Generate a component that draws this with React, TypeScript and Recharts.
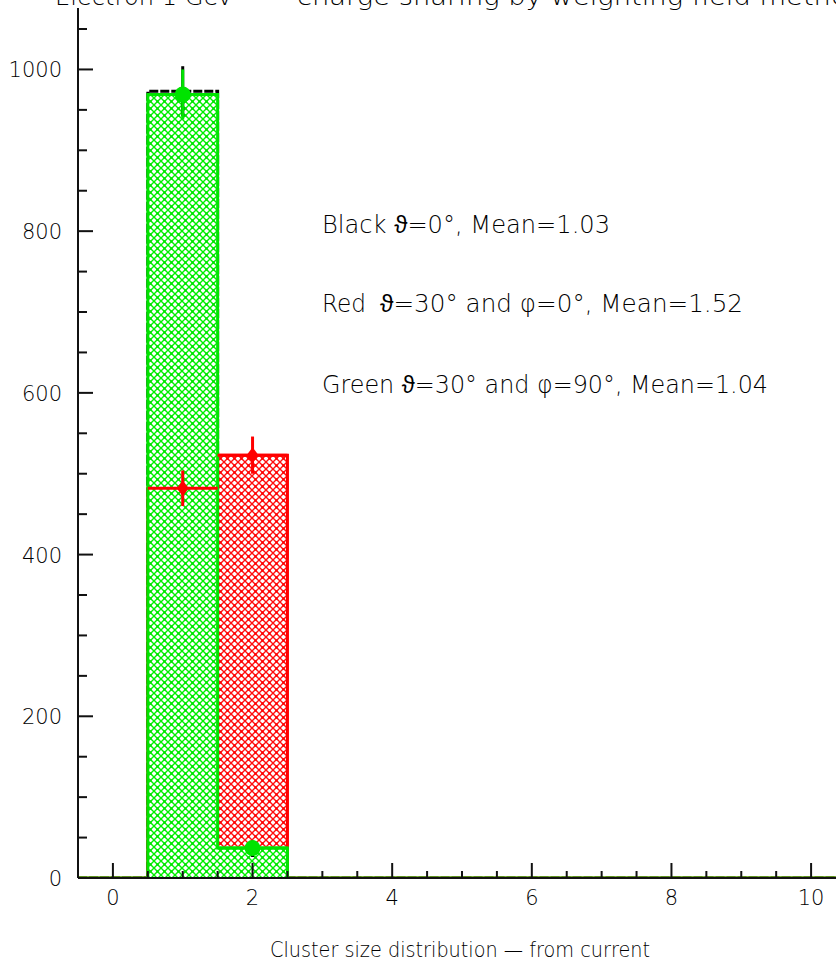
import { Area, ComposedChart, ErrorBar, Scatter, XAxis, YAxis } from "recharts"

// histogram bins (cluster size) and counts per incidence angle
const bins = [0, 1, 2, 3, 4, 5, 6, 7, 8, 9, 10]
const blackCounts = [0, 973, 32, 0, 0, 0, 0, 0, 0, 0, 0]
const redCounts = [0, 482, 523, 0, 0, 0, 0, 0, 0, 0, 0]
const greenCounts = [0, 969, 37, 0, 0, 0, 0, 0, 0, 0, 0]
const blackErrors = [0, 31, 6, 0, 0, 0, 0, 0, 0, 0, 0]
const redErrors = [0, 22, 23, 0, 0, 0, 0, 0, 0, 0, 0]
const greenErrors = [0, 31, 6, 0, 0, 0, 0, 0, 0, 0, 0]

const xTicks = [0, 0.5, 1, 1.5, 2, 2.5, 3, 3.5, 4, 4.5, 5, 5.5, 6, 6.5, 7, 7.5, 8, 8.5, 9, 9.5, 10, 10.5]
const yTicks = [0, 50, 100, 150, 200, 250, 300, 350, 400, 450, 500, 550, 600, 650, 700, 750, 800, 850, 900, 950, 1000, 1050]
const xLabels = [0, 2, 4, 6, 8, 10]
const yLabels = [0, 200, 400, 600, 800, 1000]

const GREEN = "#00e400"
const RED = "#ff0000"
const INK = "#111"
const FONT = "'DejaVu Sans', sans-serif"

const W = 860
const H = 961
const LEFT = 78
const TOP = 8
const BOTTOM = 878
const RIGHT = 846
const BIN_PX = (RIGHT - LEFT) / 11

const steps = (counts: number[]) => [
  ...bins.map((b, i) => ({ x: b - 0.5, v: counts[i] })),
  { x: bins[bins.length - 1] + 0.5, v: counts[counts.length - 1] },
]

const points = (counts: number[], errs: number[]) =>
  bins.map((b, i) => ({ x: b, v: counts[i], err: errs[i] })).filter((p) => p.v > 0)

const XTick = (p: any) => {
  const v = p.payload.value
  const major = xLabels.includes(v)
  return (
    <g>
      <line x1={p.x} x2={p.x} y1={p.y} y2={p.y - (major ? 15 : 7)} stroke={INK} strokeWidth={2} />
      {major && (
        <text x={p.x} y={p.y + 27} textAnchor="middle" fontSize={21} fontFamily={FONT} fontWeight={300} fill="#000">
          {v}
        </text>
      )}
    </g>
  )
}

const YTick = (p: any) => {
  const v = p.payload.value
  const major = yLabels.includes(v)
  return (
    <g>
      <line x1={p.x} x2={p.x + (major ? 15 : 9)} y1={p.y} y2={p.y} stroke={INK} strokeWidth={2} />
      {major && (
        <text x={p.x - 16} y={p.y + 8} textAnchor="end" fontSize={21} fontFamily={FONT} fontWeight={300} fill="#000">
          {v}
        </text>
      )}
    </g>
  )
}

const GreenMark = (p: any) => (
  <g>
    <line x1={p.cx - BIN_PX / 2} x2={p.cx + BIN_PX / 2} y1={p.cy} y2={p.cy} stroke={GREEN} strokeWidth={3} />
    <circle cx={p.cx} cy={p.cy} r={8} fill={GREEN} />
  </g>
)

const RedMark = (p: any) => (
  <g>
    <line x1={p.cx - BIN_PX / 2} x2={p.cx + BIN_PX / 2} y1={p.cy} y2={p.cy} stroke={RED} strokeWidth={3} />
    <path d={`M${p.cx},${p.cy - 8} L${p.cx + 6},${p.cy} L${p.cx},${p.cy + 8} L${p.cx - 6},${p.cy}Z`} fill={RED} />
  </g>
)

const NoMark = () => <g />

export default function App() {
  return (
    <div style={{ position: "fixed", left: 0, top: 0, width: 836, height: 961, overflow: "hidden", background: "#fff" }}>
      <ComposedChart width={W} height={H} margin={{ top: TOP, right: W - RIGHT, left: 0, bottom: 0 }}>
        <defs>
          <pattern id="hatchGreen" width="7" height="7" patternUnits="userSpaceOnUse">
            <rect width="7" height="7" fill="#fff" />
            <path d="M0,0 L7,7 M7,0 L0,7" stroke="#00f000" strokeWidth="1.4" />
            <circle cx="3.5" cy="3.5" r="1.2" fill="#00e000" />
          </pattern>
          <pattern id="hatchRed" width="7" height="7" patternUnits="userSpaceOnUse">
            <rect width="7" height="7" fill="#fff" />
            <path d="M0,0 L7,7 M7,0 L0,7" stroke="#ff1010" strokeWidth="1.4" />
            <circle cx="3.5" cy="3.5" r="1.2" fill="#ff0000" />
          </pattern>
        </defs>
        <XAxis
          type="number"
          dataKey="x"
          domain={[-0.5, 10.5]}
          ticks={xTicks}
          interval={0}
          allowDataOverflow
          height={H - BOTTOM}
          tickSize={0}
          tickMargin={0}
          tickLine={false}
          tick={<XTick />}
          axisLine={{ stroke: INK, strokeWidth: 2 }}
        />
        <XAxis
          xAxisId="top"
          orientation="top"
          type="number"
          domain={[-0.5, 10.5]}
          height={0}
          tick={false}
          tickLine={false}
          axisLine={{ stroke: INK, strokeWidth: 2 }}
        />
        <YAxis
          type="number"
          domain={[0, 1076]}
          ticks={yTicks}
          interval={0}
          allowDataOverflow
          width={LEFT}
          tickSize={0}
          tickMargin={0}
          tickLine={false}
          tick={<YTick />}
          axisLine={{ stroke: INK, strokeWidth: 2 }}
        />
        <Area
          data={steps(blackCounts)}
          dataKey="v"
          type="stepAfter"
          stroke="#000"
          strokeWidth={3}
          strokeDasharray="9 2"
          fill="none"
          dot={false}
          activeDot={false}
          isAnimationActive={false}
        />
        <Area
          data={steps(redCounts)}
          dataKey="v"
          type="stepAfter"
          stroke={RED}
          strokeWidth={3}
          fill="url(#hatchRed)"
          fillOpacity={1}
          dot={false}
          activeDot={false}
          isAnimationActive={false}
        />
        <Area
          data={steps(greenCounts)}
          dataKey="v"
          type="stepAfter"
          stroke={GREEN}
          strokeWidth={3}
          fill="url(#hatchGreen)"
          fillOpacity={1}
          dot={false}
          activeDot={false}
          isAnimationActive={false}
        />
        <Scatter data={points(blackCounts, blackErrors)} dataKey="v" shape={NoMark} isAnimationActive={false}>
          <ErrorBar dataKey="err" direction="y" width={0} stroke="#000" strokeWidth={3} />
        </Scatter>
        <Scatter data={points(redCounts, redErrors)} dataKey="v" shape={RedMark} isAnimationActive={false}>
          <ErrorBar dataKey="err" direction="y" width={0} stroke={RED} strokeWidth={3} />
        </Scatter>
        <Scatter data={points(greenCounts, greenErrors)} dataKey="v" shape={GreenMark} isAnimationActive={false}>
          <ErrorBar dataKey="err" direction="y" width={0} stroke={GREEN} strokeWidth={3} />
        </Scatter>
      </ComposedChart>
      <svg width={836} height={961} style={{ position: "absolute", left: 0, top: 0, pointerEvents: "none" }}>
        <g fontFamily={FONT} fontWeight={300} fill="#000">
          <text x={55} y={5} fontSize={24} textLength={178} lengthAdjust="spacingAndGlyphs">Electron 1 GeV</text>
          <text x={297} y={5} fontSize={24} textLength={568} lengthAdjust="spacingAndGlyphs">charge sharing by weighting field method</text>
          <text x={322} y={233} fontSize={24} textLength={288} lengthAdjust="spacingAndGlyphs">Black ϑ=0°, Mean=1.03</text>
          <text x={322} y={312} fontSize={24} textLength={44} lengthAdjust="spacingAndGlyphs">Red</text>
          <text x={380} y={312} fontSize={24} textLength={363} lengthAdjust="spacingAndGlyphs">ϑ=30° and φ=0°, Mean=1.52</text>
          <text x={322} y={393} fontSize={24} textLength={446} lengthAdjust="spacingAndGlyphs">Green ϑ=30° and φ=90°, Mean=1.04</text>
          <text x={270} y={957} fontSize={21} textLength={380} lengthAdjust="spacingAndGlyphs">Cluster size distribution — from current</text>
        </g>
      </svg>
    </div>
  )
}
